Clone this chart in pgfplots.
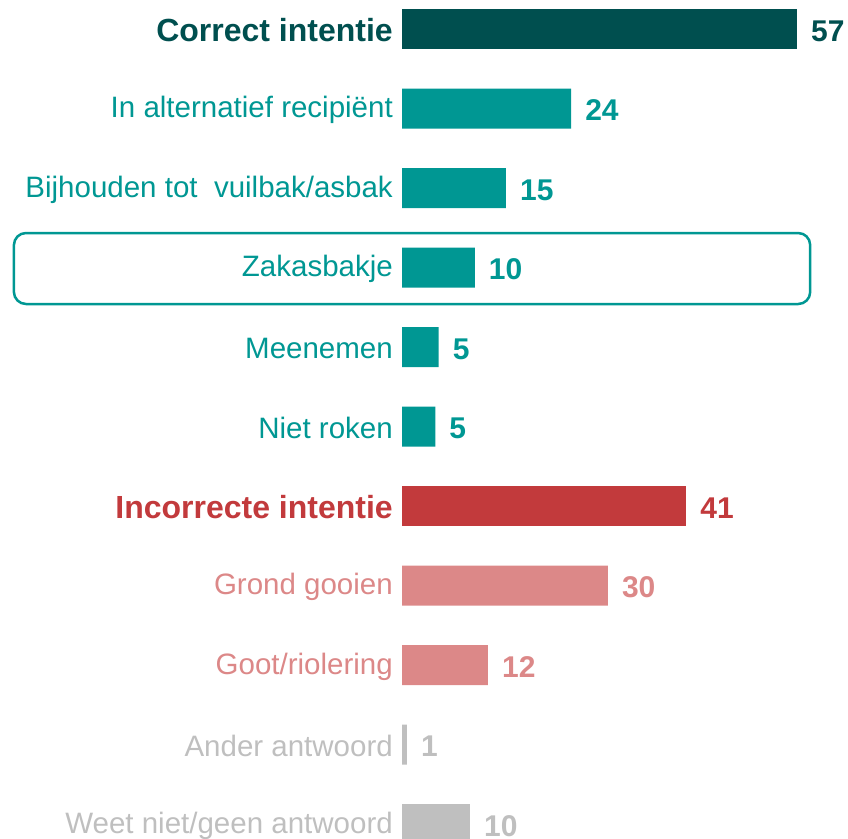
\documentclass[border=0pt]{standalone}
\usepackage{fontspec}
\setmainfont{Liberation Sans}
\usepackage{pgfplots}
\pgfplotsset{compat=1.18}

\definecolor{darkteal}{HTML}{004F4F}
\definecolor{tealc}{HTML}{009793}
\definecolor{redc}{HTML}{C23A3C}
\definecolor{pinkc}{HTML}{DC8888}
\definecolor{grayc}{HTML}{BFBFBF}

\newcommand{\nlab}[2]{\textcolor{#1}{\fontsize{29.5}{34}\selectfont #2}}
\newcommand{\blab}[2]{\textcolor{#1}{\bfseries\fontsize{32}{34}\selectfont #2}}

\begin{document}
\begin{tikzpicture}
\begin{axis}[
  at={(402pt,-863.75pt)}, anchor=south west,
  scale only axis,
  width=415.8pt, height=874.5pt,
  xbar, bar width=40pt, bar shift=0pt,
  xmin=0, xmax=60,
  ymin=-0.5, ymax=10.5,
  y dir=reverse,
  xtick=\empty,
  ytick={0,...,10},
  yticklabels={
    \blab{darkteal}{Correct intentie},
    \nlab{tealc}{In alternatief recipiënt},
    \nlab{tealc}{Bijhouden tot~ vuilbak/asbak},
    \nlab{tealc}{Zakasbakje},
    \nlab{tealc}{Meenemen},
    \nlab{tealc}{Niet roken},
    \blab{redc}{Incorrecte intentie},
    \nlab{pinkc}{Grond gooien},
    \nlab{pinkc}{Goot/riolering},
    \nlab{grayc}{Ander antwoord},
    \nlab{grayc}{Weet niet/geen antwoord}},
  yticklabel style={anchor=east, inner sep=0pt, xshift=-9pt, yshift=-1.5pt},
  axis line style={draw=none},
  major tick length=0pt,
  clip=false,
  point meta=explicit symbolic,
  nodes near coords,
  nodes near coords style={font=\bfseries\fontsize{30}{32}\selectfont, anchor=west, xshift=14pt, yshift=-2pt, inner sep=0pt},
]
\addplot[fill=darkteal, draw=none, nodes near coords style={text=darkteal}] coordinates {
  (57,0) [57]
};
\addplot[fill=tealc, draw=none, nodes near coords style={text=tealc}] coordinates {
  (24.4,1) [24]
  (15.0,2) [15]
  (10.5,3) [10]
  (5.3,4) [5]
  (4.8,5) [5]
};
\addplot[fill=redc, draw=none, nodes near coords style={text=redc}] coordinates {
  (41,6) [41]
};
\addplot[fill=pinkc, draw=none, nodes near coords style={text=pinkc}] coordinates {
  (29.7,7) [30]
  (12.4,8) [12]
};
\addplot[fill=grayc, draw=none, nodes near coords style={text=grayc}] coordinates {
  (0.7,9) [1]
  (9.8,10) [10]
};
\draw[tealc, line width=2.5pt, rounded corners=12pt]
  (axis cs:-56.0,2.566) rectangle (axis cs:58.9,3.459);
\end{axis}
\pgfresetboundingbox
\useasboundingbox (0,-838pt) rectangle (848pt,0pt);
\end{tikzpicture}
\end{document}
